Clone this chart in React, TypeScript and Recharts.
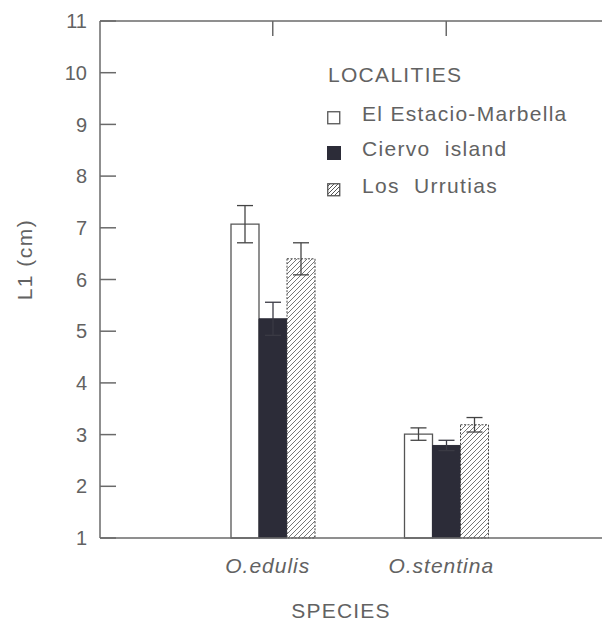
import React from 'react';
import { ComposedChart, Bar, Line, XAxis, YAxis, ErrorBar, Legend } from 'recharts';

const categories = ['O.edulis', 'O.stentina'];
const estacio = [7.07, 3.01];
const estacioErr = [0.36, 0.12];
const ciervo = [5.24, 2.79];
const ciervoErr = [0.32, 0.1];
const urrutias = [6.4, 3.19];
const urrutiasErr = [0.31, 0.14];
const yTicks = [1, 2, 3, 4, 5, 6, 7, 8, 9, 10, 11];
const legendTitle = 'LOCALITIES';
const seriesNames = ['El Estacio-Marbella', 'Ciervo  island', 'Los  Urrutias'];
const xTitle = 'SPECIES';
const yTitle = 'L1 (cm)';

const data = categories.map((name, i) => ({
  name,
  estacio: estacio[i],
  estacioErr: estacioErr[i],
  ciervo: ciervo[i],
  ciervoErr: ciervoErr[i],
  urrutias: urrutias[i],
  urrutiasErr: urrutiasErr[i],
}));

const FONT = '"Liberation Sans", Arial, sans-serif';
const TEXT = '#626262';
const AXIS = '#6a6a6a';
const DARK = '#2c2c38';

const Swatch = ({ kind }: { kind: number }) => {
  if (kind === 0)
    return (
      <svg width={14} height={14}>
        <rect x={0.75} y={0.75} width={12} height={12} fill="#fff" stroke="#555" strokeWidth={1.3} />
      </svg>
    );
  if (kind === 1)
    return (
      <svg width={14} height={14}>
        <rect x={0.5} y={0.5} width={13} height={13} fill={DARK} stroke={DARK} />
      </svg>
    );
  return (
    <svg width={14} height={14}>
      <defs>
        <pattern id="hatchLegend" patternUnits="userSpaceOnUse" width={4} height={4}>
          <rect width={4} height={4} fill="#fff" />
          <path d="M0,4 L4,0 M-1,1 L1,-1 M3,5 L5,3" stroke="#555" strokeWidth={1} />
        </pattern>
      </defs>
      <rect x={0.75} y={0.75} width={12} height={12} fill="url(#hatchLegend)" stroke="#555" strokeWidth={1.3} />
    </svg>
  );
};

const LegendBox = () => {
  const rowTops = [39.5, 74.5, 111.5];
  return (
    <div
      style={{
        position: 'relative',
        width: 280,
        height: 140,
        fontFamily: FONT,
        color: TEXT,
        fontSize: 21,
        letterSpacing: 1.3,
        lineHeight: '21px',
        whiteSpace: 'pre',
      }}
    >
      <div style={{ position: 'absolute', left: 0, top: 0 }}>{legendTitle}</div>
      {seriesNames.map((n, i) => (
        <React.Fragment key={n}>
          <div style={{ position: 'absolute', left: -1, top: rowTops[i] + 3.5, width: 14, height: 14 }}>
            <Swatch kind={i} />
          </div>
          <div style={{ position: 'absolute', left: 34, top: rowTops[i] }}>{n}</div>
        </React.Fragment>
      ))}
    </div>
  );
};

const YLabel = (props: any) => {
  const vb = props.viewBox || {};
  const cx = 16;
  const cy = vb.y + vb.height / 2 - 20;
  const x = cx + 7.5;
  return (
    <text
      x={x}
      y={cy}
      transform={`rotate(-90, ${x}, ${cy})`}
      textAnchor="middle"
      fontFamily={FONT}
      fontSize={21}
      letterSpacing={1.5}
      fill={TEXT}
    >
      {yTitle}
    </text>
  );
};

const XLabel = (props: any) => {
  const vb = props.viewBox || {};
  const x = vb.x + 241;
  const y = vb.y + 79.5;
  return (
    <text x={x} y={y} textAnchor="middle" fontFamily={FONT} fontSize={21} letterSpacing={1.2} fill={TEXT}>
      {xTitle}
    </text>
  );
};

const NoTick = () => <g />;

export default function App() {
  return (
    <div style={{ width: 602, height: 614, overflow: 'hidden', position: 'relative' }}>
      <style>{'html,body{overflow:hidden;}'}</style>
      <ComposedChart
        width={602}
        height={614}
        data={data}
        margin={{ top: 12, right: 0, bottom: 24, left: 0 }}
        barGap={0}
        barSize={28}
      >
        <defs>
          <pattern id="hatchBar" patternUnits="userSpaceOnUse" width={5} height={5}>
            <rect width={5} height={5} fill="#fff" />
            <path d="M0,5 L5,0 M-1,1 L1,-1 M4,6 L6,4" stroke="#666" strokeWidth={0.9} />
          </pattern>
        </defs>
        <XAxis
          dataKey="name"
          xAxisId={0}
          height={60}
          padding={{ left: 86, right: 76 }}
          tickSize={0}
          tickMargin={20}
          tickLine={false}
          axisLine={{ stroke: AXIS, strokeWidth: 1.5 }}
          tick={{ fontFamily: FONT, fontSize: 21, fontStyle: 'italic', fill: TEXT, letterSpacing: 1, dx: -5 }}
          label={<XLabel />}
        />
        <XAxis
          dataKey="name"
          xAxisId="top"
          orientation="top"
          height={1}
          padding={{ left: 86, right: 76 }}
          tickSize={-15}
          tick={<NoTick />}
          tickLine={{ stroke: AXIS, strokeWidth: 1.5 }}
          axisLine={{ stroke: AXIS, strokeWidth: 1.5 }}
        />
        <YAxis
          yAxisId={0}
          type="number"
          domain={[1, 11]}
          ticks={yTicks}
          interval={0}
          width={92}
          tickSize={-16}
          tickMargin={29}
          tickLine={{ stroke: AXIS, strokeWidth: 1.5 }}
          axisLine={{ stroke: AXIS, strokeWidth: 1.5 }}
          tick={{ fontFamily: FONT, fontSize: 20, fill: TEXT }}
          label={<YLabel />}
        />
        <YAxis
          yAxisId="right"
          orientation="right"
          type="number"
          domain={[1, 11]}
          allowDataOverflow
          ticks={yTicks}
          interval={0}
          width={1}
          tickSize={-7}
          tick={<NoTick />}
          tickLine={{ stroke: AXIS, strokeWidth: 1.5 }}
          axisLine={false}
        />
        <Legend
          layout="vertical"
          align="center"
          verticalAlign="middle"
          wrapperStyle={{ top: 55.5, left: 320, width: 280, height: 140 }}
          content={() => <LegendBox />}
        />
        <Bar dataKey="estacio" name={seriesNames[0]} fill="#fff" stroke="#555" strokeWidth={1.3} isAnimationActive={false}>
          <ErrorBar dataKey="estacioErr" width={8} stroke="#444" strokeWidth={1.3} />
        </Bar>
        <Bar dataKey="ciervo" name={seriesNames[1]} fill={DARK} stroke={DARK} strokeWidth={1} isAnimationActive={false}>
          <ErrorBar dataKey="ciervoErr" width={8} stroke="#3a3a44" strokeWidth={1.3} />
        </Bar>
        <Bar
          dataKey="urrutias"
          name={seriesNames[2]}
          fill="url(#hatchBar)"
          stroke="#444"
          strokeWidth={1}
          strokeDasharray="2 1.5"
          isAnimationActive={false}
        >
          <ErrorBar dataKey="urrutiasErr" width={8} stroke="#444" strokeWidth={1.3} />
        </Bar>
        <Line
          yAxisId="right"
          dataKey="estacio"
          stroke="none"
          strokeWidth={0}
          dot={false}
          activeDot={false}
          legendType="none"
          isAnimationActive={false}
        />
      </ComposedChart>
    </div>
  );
}
